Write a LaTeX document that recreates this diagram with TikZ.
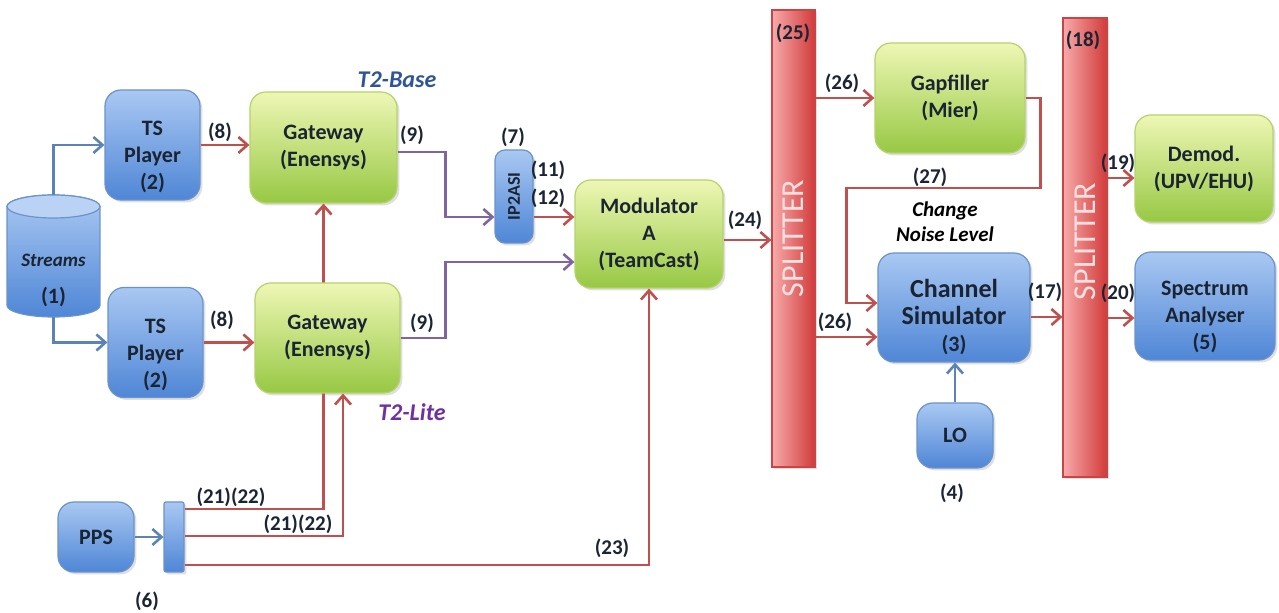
\documentclass[tikz,border=0pt]{standalone}
\usepackage{fontspec}
\setmainfont{Carlito}
\usetikzlibrary{arrows.meta,calc,shadows,backgrounds}

\definecolor{bluetop}{HTML}{A9C8F2}
\definecolor{bluebot}{HTML}{4F86D6}
\definecolor{blueedge}{HTML}{6A93CC}
\definecolor{greentop}{HTML}{EEF7B5}
\definecolor{greenbot}{HTML}{97C844}
\definecolor{greenedge}{HTML}{B5D36B}
\definecolor{splitL}{HTML}{F7AAAA}
\definecolor{splitR}{HTML}{D23A3A}
\definecolor{splitedge}{HTML}{C94444}
\definecolor{redln}{HTML}{C0504D}
\definecolor{blueln}{HTML}{5B83B8}
\definecolor{purpleln}{HTML}{8064A2}
\definecolor{txt}{HTML}{1B2433}
\definecolor{baseblue}{HTML}{2F5597}
\definecolor{liteviolet}{HTML}{7030A0}

\begin{document}
\begin{tikzpicture}[x=0.5pt,y=-0.5pt,
  shadowed/.style={drop shadow={opacity=0.25,shadow xshift=1.2pt,shadow yshift=-1.2pt}},
  bluebox/.style={rounded corners=8pt,draw=blueedge,line width=0.6pt,
    top color=bluetop,bottom color=bluebot,shadowed,
    font=\bfseries\fontsize{11}{13.5}\selectfont,text=txt,align=center,inner sep=0pt},
  greenbox/.style={rounded corners=8pt,draw=greenedge,line width=0.6pt,
    top color=greentop,bottom color=greenbot,shadowed,
    font=\bfseries\fontsize{11}{13.5}\selectfont,text=txt,align=center,inner sep=0pt},
  splitbox/.style={draw=splitedge,line width=0.6pt,left color=splitL,right color=splitR,
    shadowed,inner sep=0pt},
  boxtxt/.style={font=\bfseries\fontsize{11}{13.5}\selectfont,text=txt,align=center,inner sep=0pt},
  splittxt/.style={font=\fontsize{16}{16}\selectfont,text=white!88!red,inner sep=0pt},
  tag/.style={font=\bfseries\fontsize{10.5}{12}\selectfont,text=txt,inner sep=0pt},
  note/.style={font=\bfseries\itshape\fontsize{10.5}{12.5}\selectfont,text=black,align=center,inner sep=0pt},
  conn/.style={line width=1.3pt,-{Straight Barb[length=4.5pt,width=8pt]}},
  redc/.style={conn,draw=redln},
  bluec/.style={conn,draw=blueln},
  purplec/.style={conn,draw=purpleln},
]
\useasboundingbox (0,0) rectangle (1279,613);

% stream store drawn as a cylinder
\shade[top color=bluetop,bottom color=bluebot,draw=blueedge,line width=0.6pt]
  (7,206.5) -- (7,305.5) arc[start angle=180,end angle=360,x radius=23.25pt,y radius=5.75pt]
  -- (100,206.5) arc[start angle=0,end angle=180,x radius=23.25pt,y radius=5.75pt] -- cycle;
\filldraw[fill=bluetop!80!white,draw=blueedge,line width=0.6pt]
  (53.5,206.5) ellipse [x radius=23.25pt,y radius=5.75pt];
\node[minimum width=46.5pt,minimum height=61pt,inner sep=0pt,
  label={[boxtxt,yshift=-12pt]center:{\itshape\fontsize{9.5}{12}\selectfont Streams}\\[5pt](1)}]
  (streams) at (53.5,256) {};

% blocks
\node[bluebox,minimum width=47.5pt,minimum height=55pt,
  label={[boxtxt,yshift=-6pt]center:TS\\Player\\(2)}] (tsa) at (152.5,145) {};
\node[bluebox,minimum width=47.5pt,minimum height=55pt,
  label={[boxtxt,yshift=-6pt]center:TS\\Player\\(2)}] (tsb) at (155.5,342.5) {};
\node[greenbox,minimum width=73.5pt,minimum height=55.5pt] (gwa) at (323.5,147.5) {Gateway\\(Enensys)};
\node[greenbox,minimum width=72.5pt,minimum height=55pt] (gwb) at (327.5,338) {Gateway\\(Enensys)};
\node[bluebox,rounded corners=5pt,minimum width=19pt,minimum height=46.5pt,
  label={[boxtxt,rotate=90,font=\bfseries\fontsize{9}{10}\selectfont]center:IP2ASI}] (ip) at (514,196.5) {};
\node[greenbox,minimum width=74pt,minimum height=54pt] (mod) at (649,234) {Modulator\\A\\(TeamCast)};
\node[splitbox,minimum width=21.5pt,minimum height=228.5pt,
  label={[splittxt,rotate=90]center:SPLITTER}] (sp1) at (793.5,238.5) {};
\node[greenbox,minimum width=75pt,minimum height=55pt] (gap) at (950,98) {Gapfiller\\(Mier)};
\node[bluebox,minimum width=76pt,minimum height=54.5pt,
  label={[boxtxt,yshift=-5pt]center:{\fontsize{13}{13.5}\selectfont Channel}\\{\fontsize{13}{13.5}\selectfont Simulator}\\(3)}] (ch) at (954,307.5) {};
\node[bluebox,minimum width=38pt,minimum height=32.5pt] (lo) at (955,435.5) {LO};
\node[splitbox,minimum width=22pt,minimum height=229.5pt,
  label={[splittxt,rotate=90,xshift=3pt]center:SPLITTER}] (sp2) at (1085,247.5) {};
\node[greenbox,minimum width=69pt,minimum height=53.5pt] (demod) at (1204,168.5) {Demod.\\(UPV/EHU)};
\node[bluebox,minimum width=70pt,minimum height=54pt,
  label={[boxtxt,yshift=-5.5pt]center:Spectrum\\Analyser\\(5)}] (spec) at (1205,306) {};
\node[bluebox,minimum width=38pt,minimum height=35pt] (pps) at (96,537) {PPS};
\node[bluebox,rounded corners=1pt,minimum width=10pt,minimum height=35pt] (bar) at (174,537) {};

% attachment points that sit off the block centres
\coordinate (ipin) at ($(ip.west)+(0,20.5)$);
\coordinate (ipout) at ($(ip.east)+(0,20.5)$);
\coordinate (modin) at ($(mod.west)+(0,28)$);
\coordinate (modout) at ($(mod.east)+(0,6)$);
\coordinate (chin1) at ($(ch.west)+(0,-4.5)$);
\coordinate (chin2) at ($(ch.west)+(0,29.5)$);
\coordinate (chout) at ($(ch.east)+(0,9.5)$);
\coordinate (dmin) at ($(demod.west)+(0,9.5)$);
\coordinate (spin) at ($(spec.west)+(0,12)$);
\coordinate (pps1) at ($(bar.east)+(0,-28)$);
\coordinate (pps2) at ($(bar.east)+(0,-1)$);
\coordinate (pps3) at ($(bar.east)+(0,28)$);

% connectors
\draw[bluec] (streams.north) |- (tsa.west);
\draw[bluec] (streams.south) |- (tsb.west);
\draw[redc] (tsa.east) -- (tsa.east -| gwa.west);
\draw[redc] (tsb.east) -- (tsb.east -| gwb.west);
\draw[purplec] ($(gwa.east)+(0,4.5)$) -- ++(48,0) |- (ipin);
\draw[redc] (ipout) -- (ipout -| mod.west);
\draw[purplec] (gwb.east) -- ++(45,0) |- (modin);
\draw[redc] (modout) -- (modout -| sp1.west);
\draw[redc] (gap.west -| sp1.east) -- (gap.west);
\draw[redc] (chin2 -| sp1.east) -- (chin2);
\draw[redc] (gap.east) -- ++(15,0) -- ++(0,90) -| ($(chin1)+(-31,0)$) -- (chin1);
\draw[redc] (chout) -- (chout -| sp2.west);
\draw[redc] (dmin -| sp2.east) -- (dmin);
\draw[redc] (spin -| sp2.east) -- (spin);
\draw[bluec] (lo.north) -- (lo.north |- ch.south);
\draw[bluec] (pps.east) -- (pps.east -| bar.west);
% the PPS feed to the upper gateway runs behind the lower gateway
\begin{scope}[on background layer]
  \fill[white] (0,0) rectangle (1279,613);
  \draw[redc] (pps1) -| (gwa.south);
\end{scope}
\draw[redc] (pps2) -| ($(gwb.south)+(15.5,0)$);
\draw[redc] (pps3) -| (mod.south);

% connector tags
\node[tag] (t8a) at (220,132) {(8)};
\node[tag] (t8b) at (222,320) {(8)};
\node[tag] (t9a) at (412,135) {(9)};
\node[tag] (t9b) at (422,323) {(9)};
\node[tag] (t7) at (513,137) {(7)};
\node[tag] (t11) at (548,170) {(11)};
\node[tag] (t12) at (548,198) {(12)};
\node[tag] (t24) at (745,220) {(24)};
\node[tag] (t25) at (793,33) {(25)};
\node[tag] (t18) at (1083,40) {(18)};
\node[tag] (t26a) at (842,83) {(26)};
\node[tag] (t26b) at (835,322) {(26)};
\node[tag] (t27) at (930,177) {(27)};
\node[tag] (t17) at (1045,292) {(17)};
\node[tag] (t19) at (1118,163) {(19)};
\node[tag] (t20) at (1118,293) {(20)};
\node[tag] (t4) at (952,493) {(4)};
\node[tag] (t6) at (147,601) {(6)};
\node[tag] (t2122a) at (231,497) {(21)(22)};
\node[tag] (t2122b) at (298,524) {(21)(22)};
\node[tag] (t23) at (612,548) {(23)};

% annotations
\node[note,font=\bfseries\itshape\fontsize{12}{12}\selectfont,text=baseblue] (base) at (397,80) {T2-Base};
\node[note,font=\bfseries\itshape\fontsize{12}{12}\selectfont,text=liteviolet] (lite) at (412,412) {T2-Lite};
\node[note] (noise) at (945,222) {Change\\Noise Level};
\end{tikzpicture}
\end{document}
